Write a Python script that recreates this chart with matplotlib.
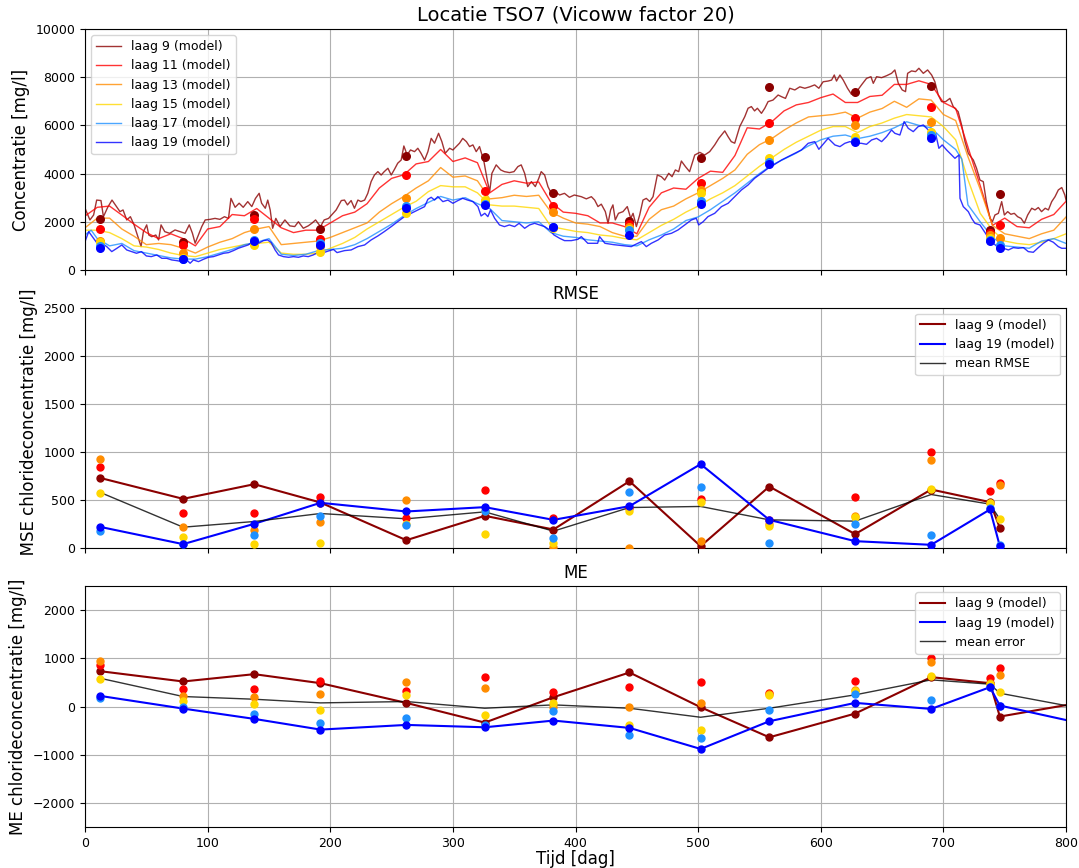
import numpy as np
import matplotlib.pyplot as plt
from matplotlib.transforms import Bbox, TransformedBbox

plt.rcParams['xtick.labelsize'] = 9
plt.rcParams['ytick.labelsize'] = 9
plt.rcParams['legend.fontsize'] = 9

# ---- model concentrations per layer [mg/l] ----
t9 = [0, 4, 7, 9.5, 13, 15, 18.5, 22, 26, 28.5, 31, 34, 37, 40, 43.5, 45.7, 47.6, 50.3, 52, 54.4,
      57.7, 60, 62, 65, 69, 73.4, 77.5, 81.6, 85, 87.6, 89.8, 92.5, 95.2, 98, 102, 106, 110, 113.7,
      117, 119, 122.4, 125.7, 129, 132.7, 136, 139, 142, 144, 147, 149, 151, 153, 155.6, 159, 163,
      167, 171, 174, 178, 182, 185, 188, 192, 195, 198.6, 204.8, 209, 211.6, 214, 217, 219.7, 222.5,
      225, 228, 230.6, 233.3, 236, 238.8, 241.5, 244, 247, 249.7, 252.4, 255, 257.8, 260, 262.7,
      265.4, 268.7, 271.4, 274, 276.9, 279.6, 282.3, 285, 288.3, 291, 293.7, 297.3, 300, 302.7,
      305.4, 308, 311, 313.6, 316.3, 319, 321.7, 325.3, 328, 330, 331.8, 335.3, 339, 342, 346.2,
      349.8, 353, 355.7, 358.5, 361, 364, 367.2, 370, 372, 374.8, 377.5, 380.2, 383.5, 387, 391,
      395, 399, 404.7, 408.8, 412.9, 415.6, 418.3, 421, 424.3, 426.5, 428.6, 430.5, 432.4, 435,
      438.7, 442.2, 445, 446.9, 449.6, 452.3, 455, 457.7, 460.5, 463.2, 466.7, 470, 472.7, 476,
      478.7, 481.4, 484.1, 486.3, 489.6, 493, 497.2, 501.3, 505.3, 509.4, 513.5, 516.8, 519, 521.7,
      524.4, 527, 529.8, 533.9, 538, 540.7, 543.4, 546, 548.3, 551.6, 554.3, 557, 561, 565.2, 568,
      571.2, 574.7, 578.8, 582.9, 587, 591, 595, 598.4, 601.9, 606, 608.8, 611, 612.8, 615.6, 618.3,
      621.8, 625, 629.2, 633.2, 637.3, 640.9, 642.8, 645.5, 649.6, 653.6, 657.7, 660.4, 663.2,
      666.4, 669.1, 670.8, 674, 677.3, 680, 683.6, 687.1, 690.4, 693, 695.8, 698.5, 701.8, 705.3,
      708, 712, 714.8, 717.6, 720.3, 724.4, 727, 729.8, 732.5, 735, 738, 740, 742, 744.8, 747.5,
      749.7, 752.4, 755, 757.8, 760.5, 763.3, 766, 768.7, 772, 774.7, 777.4, 780, 783, 785.6, 788.3,
      791, 793.7, 796.5, 799, 800]
c9 = [2560, 2075, 2280, 2900, 2880, 2210, 2600, 2900, 2600, 2420, 2490, 2075, 2210, 1870, 1310, 970,
      1590, 1870, 1450, 1380, 1450, 1245, 1870, 1590, 1520, 1660, 1590, 1520, 1870, 1520, 1110, 1450,
      1800, 2075, 2100, 2140, 2100, 2210, 2140, 2970, 2600, 2770, 2600, 2835, 2630, 2970, 3180, 2770,
      2560, 2900, 2490, 1730, 2140, 1800, 2075, 1830, 1800, 2000, 1730, 1830, 1940, 2075, 1800, 2075,
      2140, 2490, 2880, 2900, 2700, 2880, 2560, 2900, 2840, 2900, 3180, 3665, 3940, 4080, 3940, 4080,
      4220, 3940, 4180, 4430, 4560, 5145, 4770, 4980, 4910, 5050, 4840, 4560, 4910, 5460, 5260, 5670,
      5325, 4840, 5050, 4980, 5120, 5260, 5460, 5325, 5120, 5190, 4910, 5120, 4500, 3730, 3250, 4010,
      4360, 4150, 4080, 4040, 4080, 4290, 4360, 4010, 3460, 3665, 3460, 3800, 4080, 3940, 3460, 3180,
      3250, 3110, 3180, 3015, 3110, 3040, 2950, 3040, 2900, 2630, 2730, 2420, 1940, 2490, 2700, 2075,
      2350, 2420, 2630, 2140, 2350, 1800, 2280, 2900, 2970, 2840, 3040, 3940, 3870, 3730, 4010, 3870,
      4150, 4080, 4520, 4290, 4080, 4770, 4880, 4770, 4910, 5190, 5460, 5600, 5770, 5530, 5325, 5260,
      5950, 6360, 6710, 6780, 6600, 6710, 6500, 6710, 6985, 7050, 7260, 7190, 7120, 7540, 7470, 7600,
      7540, 7600, 7680, 7540, 7810, 7840, 7880, 8090, 7840, 8090, 7880, 7540, 7290, 7400, 7680, 7950,
      8020, 7745, 8020, 7980, 8060, 8160, 8300, 7745, 7470, 7400, 8160, 8260, 8230, 8370, 8160, 8300,
      8090, 7815, 7260, 6985, 6985, 7120, 6780, 6570, 6020, 5325, 4840, 4560, 4220, 3730, 3665, 2835,
      2140, 2006, 2280, 2350, 2835, 2280, 2420, 2310, 2350, 2210, 2140, 1940, 2280, 2560, 2490, 2590,
      2420, 2560, 2490, 2835, 3040, 3320, 3420, 3110, 2900]

t_grid = [0, 10, 20, 30, 40, 50, 60, 70, 80, 90, 100, 110, 120, 130, 140, 150, 160, 170, 180, 190,
          200, 210, 220, 230, 240, 250, 260, 270, 280, 290, 300, 310, 320, 330, 340, 350, 360, 370,
          380, 390, 400, 410, 420, 430, 440, 450, 460, 470, 480, 490, 500, 510, 520, 530, 540, 550,
          560, 570, 580, 590, 600, 610, 620, 630, 640, 650, 660, 670, 680, 690, 700, 710, 720, 730,
          740, 750, 760, 770, 780, 790, 800]
c11 = [2240, 2600, 2650, 2280, 1900, 1550, 1300, 1500, 1300, 1000, 1700, 1800, 2300, 2250, 2550,
       2150, 1750, 1550, 1650, 1650, 1950, 2250, 2400, 2750, 3400, 3800, 3950, 4400, 4500, 5000,
       4500, 4650, 4450, 3200, 3550, 3700, 3600, 3650, 2800, 2400, 2350, 2250, 1950, 1950, 1800,
       1500, 2600, 3200, 3400, 3350, 3800, 4100, 4050, 4750, 5900, 5850, 6150, 6600, 6850, 6950,
       7150, 7300, 6950, 6950, 7200, 7250, 7700, 7700, 7850, 7700, 6950, 6700, 5100, 3500, 1850,
       2150, 1800, 1750, 2100, 2300, 2850]
c13 = [1750, 2150, 2150, 1700, 1400, 1050, 1100, 1050, 900, 700, 950, 1150, 1300, 1550, 1700, 1800,
       1050, 1100, 1150, 1200, 1350, 1550, 1750, 1950, 2400, 2750, 3050, 3400, 3700, 4250, 3850,
       3900, 3700, 2950, 3000, 3100, 3050, 3100, 2400, 2150, 1950, 1900, 1800, 1550, 1400, 1400,
       2100, 2500, 2650, 2950, 3200, 3500, 3800, 4150, 4800, 5200, 5450, 5800, 6100, 6350, 6400,
       6450, 6550, 6300, 6550, 6700, 7000, 6750, 7100, 7050, 6450, 6200, 4700, 3350, 1850, 1500,
       1400, 1300, 1500, 1650, 2200]
c15 = [1650, 1650, 1550, 1300, 1000, 950, 850, 700, 600, 550, 700, 850, 950, 1050, 1100, 1150, 700,
       650, 650, 700, 900, 1100, 1350, 1700, 2000, 2300, 2600, 2850, 3250, 3500, 3450, 3450, 3200,
       2700, 2650, 2650, 2600, 2550, 1800, 1700, 1600, 1550, 1450, 1400, 1300, 1250, 1550, 1850,
       2100, 2400, 2650, 2950, 3200, 3500, 3900, 4300, 4650, 5000, 5300, 5550, 5800, 5950, 5950,
       5700, 5950, 6100, 6300, 6450, 6400, 6350, 5950, 5400, 3750, 2350, 1650, 1200, 1100, 1050,
       1150, 1300, 1500]
t17 = [0, 5, 10, 20, 30, 40, 50, 60, 70, 80, 90, 100, 110, 120, 130, 140, 150, 160, 170, 180, 190,
       200, 210, 220, 230, 240, 250, 260, 270, 280, 290, 300, 310, 320, 330, 340, 350, 360, 370,
       380, 390, 400, 410, 420, 430, 440, 450, 460, 470, 480, 490, 500, 510, 520, 530, 540, 550,
       560, 570, 580, 590, 600, 610, 620, 630, 640, 650, 660, 670, 680, 690, 700, 710, 715, 720,
       730, 740, 750, 760, 770, 780, 790, 800]
c17 = [1450, 1650, 1300, 1000, 1100, 800, 700, 600, 500, 450, 450, 550, 700, 850, 1050, 1150, 1300,
       650, 600, 650, 800, 850, 900, 1050, 1300, 1600, 1900, 2250, 2550, 2800, 3050, 2900, 3000,
       2750, 2550, 2050, 2000, 1950, 2000, 1550, 1400, 1350, 1250, 1200, 1150, 1050, 1000, 1250,
       1450, 1700, 2050, 2200, 2500, 2850, 3200, 3600, 4000, 4350, 4600, 4850, 5150, 5400, 5550,
       5600, 5450, 5550, 5700, 5900, 6150, 6000, 5900, 5400, 5000, 4600, 2700, 2000, 1350, 1000,
       950, 900, 1200, 1300, 1100]
t19 = [0, 3, 6, 9.5, 13.6, 17.7, 21.8, 26, 30, 34, 38, 42, 46, 50, 54, 58.5, 62.6, 66.6, 70.7, 74.8,
       79, 83, 85.7, 88.4, 92.5, 96.6, 100.6, 104.7, 108.8, 113, 117, 121, 125, 129, 133, 137,
       141.4, 145.5, 149, 151.8, 155, 157.8, 161.8, 166, 170, 174, 178, 182, 186, 190, 194.5,
       198.6, 202.6, 205.5, 211.6, 217, 222.5, 228, 233.3, 238.8, 244, 249.7, 255, 260.5, 266,
       271.4, 276.9, 279.6, 282.3, 285, 287.7, 291.8, 295.9, 300, 304, 308, 312, 316.3, 320.4, 323,
       326, 328.5, 330.7, 334, 338, 342, 346, 350.3, 354, 358.5, 362.5, 366.6, 370.7, 374.8, 378.8,
       382.4, 387, 391, 396.6, 402, 404.7, 410, 418, 419.6, 424, 431, 440, 445.5, 448, 453.7, 457.7,
       461.8, 467.3, 472.7, 478.2, 483.6, 489, 494.5, 498.5, 500.4, 504, 508, 513.5, 519, 524.4,
       529.8, 535.3, 540.7, 546, 551.6, 557, 562.5, 568, 573.4, 578.8, 584.2, 589.7, 595, 598.4,
       601.9, 606, 611.5, 615.6, 619.6, 623.7, 628.6, 633, 637.3, 641.4, 645.5, 649.6, 653.6, 657.7,
       660.4, 664.5, 668, 671.3, 675.4, 679.4, 683.6, 687.7, 690.4, 693.6, 696.3, 699, 702.6, 706.7,
       709.4, 712.7, 713.5, 716.2, 720.3, 723, 725.7, 729.8, 732.5, 735.2, 738, 740.7, 744.8, 748.9,
       753, 757, 761, 765.2, 769.2, 773.3, 777.4, 781.5, 785.6, 789.6, 793.7, 796.5, 800]
c19 = [1176, 1590, 1380, 1134, 1110, 968, 761, 899, 1037, 830, 761, 692, 761, 581, 553, 622, 484, 484,
       415, 387, 346, 415, 277, 415, 346, 443, 525, 553, 622, 692, 719, 802, 899, 968, 1037, 1176,
       1107, 1217, 1245, 1134, 830, 622, 553, 525, 553, 525, 581, 553, 622, 719, 719, 788, 850, 720,
       802, 830, 968, 1037, 1245, 1411, 1590, 1798, 2006, 2213, 2351, 2490, 2628, 2932, 3015, 2900,
       3043, 2835, 2900, 2766, 2877, 2974, 2900, 2835, 2628, 2240, 2351, 2213, 2490, 2144, 1867,
       1798, 1867, 1798, 1936, 1729, 1867, 1936, 1867, 1798, 1660, 1452, 1314, 1217, 1217, 1272,
       1383, 1106, 1106, 1383, 1106, 1050, 1000, 968, 1037, 1176, 968, 1106, 1245, 1452, 1521, 1660,
       1867, 2075, 2144, 1867, 2000, 2213, 2351, 2628, 2766, 3043, 3320, 3527, 3803, 4011, 4219,
       4385, 4564, 4703, 4841, 4979, 5256, 5325, 5007, 5214, 5463, 5187, 5118, 5256, 5325, 5256,
       5256, 5214, 5394, 5463, 5325, 5532, 5809, 5670, 5600, 6155, 5878, 5740, 5948, 6017, 5809,
       5463, 5670, 5048, 5187, 4979, 4772, 4633, 4772, 2974, 2628, 2420, 2144, 1936, 1867, 1660,
       1452, 1314, 1106, 927, 899, 830, 927, 899, 927, 761, 733, 927, 1106, 1245, 1150, 968, 899,
       899]

# ---- measurements [mg/l] ----
obs_days = [12, 80, 138, 192, 262, 326, 382, 444, 502, 558, 628, 690, 738, 746]
obs9 = [2100, 1160, 2280, 1690, 4740, 4680, 3200, 2050, 4660, 7590, 7390, 7650, 1660, 3140]
obs11 = [1700, 1040, 2100, 1270, 3940, 3280, 2640, 1900, 3610, 6085, 6320, 6760, 1520, 1870]
obs13 = [1200, 720, 1715, 1000, 3000, 2850, 2420, 1800, 3320, 5380, 6000, 6155, 1450, 1310]
obs15 = [1175, 500, 1050, 760, 2350, 2900, 1730, 1720, 3180, 4630, 5530, 5740, 1330, 950]
obs17 = [1000, 450, 1250, 1100, 2650, 2750, 1800, 1650, 2850, 4500, 5350, 5600, 1250, 1050]
obs19 = [930, 450, 1220, 1050, 2570, 2700, 1780, 1470, 2750, 4410, 5300, 5490, 1200, 930]

# ---- RMSE per layer [mg/l] ----
rmse9 = [733, 515, 667, 477, 86, 339, 197, 698, 24, 643, 149, 612, 481, 214]
rmse11 = [847, 373, 373, 532, 318, 605, 315, 420, 512, 300, 532, 999, 598, 681]
rmse13 = [930, 221, 190, 273, 508, 388, 17, 10, 76, 249, 342, 923, 477, 654]
rmse15 = [574, 118, 45, 59, 259, 149, 52, 387, 484, 235, 325, 615, 470, 304]
rmse17 = [180, 45, 142, 335, 239, 387, 104, 588, 643, 52, 256, 142, 415, 35]
rmse19 = [225, 45, 256, 474, 384, 429, 297, 439, 875, 297, 76, 38, 405, 24]
rmse_mean = [584, 221, 280, 363, 308, 380, 180, 425, 436, 297, 284, 560, 460, 304]

# ---- ME per layer [mg/l] ----
me9 = [735, 520, 672, 485, 76, -333, 194, 707, -14, -638, -146, 610, 485, -208]
me11 = [866, 367, 367, 527, 319, 610, 312, 416, 513, 291, 534, 998, 596, 804]
me13 = [942, 222, 194, 270, 506, 388, 0, -14, 76, 263, 353, 929, 492, 651]
me15 = [575, 111, 49, -62, 249, -166, 69, -374, -478, 243, 333, 624, 471, 312]
me17 = [180, 0, -152, -340, -236, -374, -97, -589, -651, -62, 263, 146, 416, 7]
me19 = [222, -42, -256, -478, -381, -430, -291, -443, -880, -305, 76, -49, 402, 21]
me_mean = [589, 208, 152, 76, 104, -35, 35, -35, -222, -35, 243, 554, 464, 277]
# last line point of the ME plot (day 800)
me_end_day = 800
me9_end, me19_end, me_mean_end = 30, -280, 20

labels = ['laag 9 (model)', 'laag 11 (model)', 'laag 13 (model)', 'laag 15 (model)',
          'laag 17 (model)', 'laag 19 (model)']
colors = ['darkred', 'red', 'darkorange', 'gold', 'dodgerblue', 'blue']

fig, (ax1, ax2, ax3) = plt.subplots(3, 1, sharex=True, figsize=(10.79, 8.68), dpi=100)
plt.subplots_adjust(left=0.0788, right=0.988, top=0.9666, bottom=0.0472, hspace=0.156)

# ---------------- concentration ----------------
model_t = [t9, t_grid, t_grid, t_grid, t17, t19]
model_c = [c9, c11, c13, c15, c17, c19]
obs_all = [obs9, obs11, obs13, obs15, obs17, obs19]
for t, c, lab, col in zip(model_t, model_c, labels, colors):
    ax1.plot(t, c, color=col, lw=1, alpha=0.8, label=lab)
for o, col in zip(obs_all, colors):
    ax1.scatter(obs_days, o, s=30, color=col, zorder=3)
ax1.set_title('Locatie TSO7 (Vicoww factor 20)', fontsize=14)
ax1.set_ylabel('Concentratie [mg/l]', fontsize=12)
ax1.set_ylim(0, 10000)
ax1.set_yticks(np.arange(0, 10001, 2000))
ax1.grid()
ax1.legend(loc='upper left')

# ---------------- RMSE ----------------
rmse_all = [rmse9, rmse11, rmse13, rmse15, rmse17, rmse19]
for r, col in zip(rmse_all, colors):
    ax2.scatter(obs_days, r, s=25, color=col, zorder=3)
ax2.plot(obs_days, rmse9, color='darkred', lw=1.5, label='laag 9 (model)')
ax2.plot(obs_days, rmse19, color='blue', lw=1.5, label='laag 19 (model)')
ax2.plot(obs_days, rmse_mean, color='black', lw=1, alpha=0.8, label='mean RMSE')
ax2.set_title('RMSE', fontsize=12)
ax2.set_ylabel('RMSE chlorideconcentratie [mg/l]', fontsize=12)
ax2.set_ylim(0, 2500)
ax2.grid()
ax2.legend(loc='upper right')
# label is longer than the axes; cut it off above the ME panel
ax2.yaxis.label.set_clip_box(TransformedBbox(Bbox([[0, 0.3585], [1, 1]]), fig.transFigure))
ax2.yaxis.label.set_clip_on(True)

# ---------------- ME ----------------
me_all = [me9, me11, me13, me15, me17, me19]
for m, col in zip(me_all, colors):
    ax3.scatter(obs_days, m, s=25, color=col, zorder=3)
ax3.plot(obs_days + [me_end_day], me9 + [me9_end], color='darkred', lw=1.5, label='laag 9 (model)')
ax3.plot(obs_days + [me_end_day], me19 + [me19_end], color='blue', lw=1.5, label='laag 19 (model)')
ax3.plot(obs_days + [me_end_day], me_mean + [me_mean_end], color='black', lw=1, alpha=0.8,
         label='mean error')
ax3.set_title('ME', fontsize=12)
ax3.set_ylabel('ME chlorideconcentratie [mg/l]', fontsize=12)
ax3.set_xlabel('Tijd [dag]', fontsize=12, labelpad=0.5)
ax3.set_ylim(-2500, 2500)
ax3.set_yticks([-2000, -1000, 0, 1000, 2000])
ax3.set_xlim(0, 800)
ax3.grid()
ax3.legend(loc='upper right')

plt.savefig('out.png', dpi=100)
